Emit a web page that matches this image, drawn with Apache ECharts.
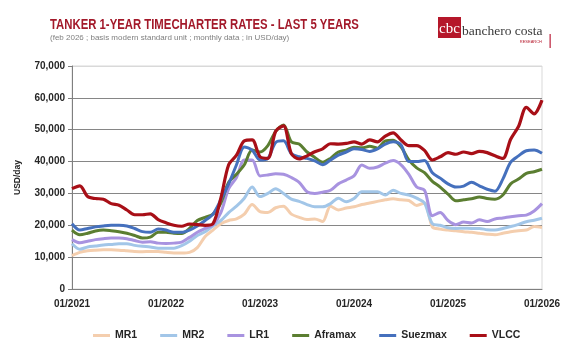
<!DOCTYPE html>
<html><head><meta charset="utf-8">
<script src="https://cdn.jsdelivr.net/npm/echarts@6/dist/echarts.min.js"></script>
<style>html,body{margin:0;padding:0;background:#fff}#c{width:569px;height:353px}</style>
</head><body><div id="c"></div>
<script>
// Categories: monthly, 01/2021 .. 01/2026
const categories = [];
for (let y = 2021; y <= 2026; y++) {
  for (let m = 1; m <= 12; m++) {
    if (y === 2026 && m > 1) break;
    categories.push(String(m).padStart(2, '0') + '/' + y);
  }
}
const xTickLabels = ['01/2021', '01/2022', '01/2023', '01/2024', '01/2025', '01/2026'];
const yTickValues = [0, 10000, 20000, 30000, 40000, 50000, 60000, 70000];

const seriesNames = ['MR1', 'MR2', 'LR1', 'Aframax', 'Suezmax', 'VLCC'];

const mr1 = [
  10500, 11500, 12000, 12200, 12300, 12300, 12200, 12000, 11800, 11700, 11800, 11800,
  11500, 11300, 11300, 11500, 13000, 16500, 18500, 20500, 21500, 22000, 23500, 26500,
  24300, 24000, 25500, 26000, 23500, 22500, 21800, 22000, 21200, 26000, 24800, 25400,
  25800, 26500, 27000, 27500, 28000, 28300, 28000, 27800, 26200, 27000, 19500, 18800,
  18500, 18300, 18000, 17800, 17500, 17200, 17000, 17500, 18000, 18300, 18500, 19600,
  19300
];
const mr2 = [
  14200, 12500, 13200, 13500, 13800, 14000, 14200, 14200, 13700, 13400, 13200, 12800,
  12800, 12800, 13600, 15000, 16800, 18000, 19800, 21500, 24000, 26000, 28500, 32000,
  29000, 30000, 31500, 30000, 28200, 27500, 26500, 25800, 25800, 26800, 28500, 27400,
  28400, 30500, 30500, 30500, 29500, 31000, 30000, 29500, 28500, 27000, 20500, 20000,
  19200, 19000, 19100, 19000, 19000, 18600, 18500, 19000, 19600, 20300, 21100, 21600,
  22200
];
const lr1 = [
  15500, 14500, 15000, 15500, 15800, 16000, 16000, 15800, 15200, 14700, 14800, 14400,
  14300, 14400, 14700, 16200, 17800, 19000, 20200, 24000, 31500, 35000, 40500, 40500,
  35500, 35800, 36200, 36000, 35000, 33500, 30500, 30000, 30400, 31000, 33000, 34200,
  35500, 38900, 37900, 38300, 39500, 40300, 39000, 36000, 32000, 31000, 23000, 24000,
  21500, 20200, 21000, 20700, 21700, 21200, 22000, 22300, 22700, 23000, 23200, 24500,
  26800
];
const aframax = [
  18500, 17000, 17500, 18200, 18500, 18300, 18000, 17500, 16800, 16000, 16300, 17800,
  17800, 17500, 17400, 19000, 21500, 22500, 23500, 27000, 33500, 36000, 39000, 43600,
  43000, 45000, 49500, 51500, 46200, 45500, 43000, 41300, 39800, 41000, 43000, 43600,
  44500, 44300, 44800, 44200, 46500, 46700, 44600, 40500, 38000, 36500, 33800, 32000,
  29800, 27700, 28000, 28300, 28900, 28400, 28200, 29500, 33000, 34500, 36300, 36800,
  37600
];
const suezmax = [
  20500, 18500, 19000, 19500, 19800, 20000, 20000, 19800, 19000, 18000, 17800, 18800,
  18500, 17800, 17800, 18500, 19800, 21500, 23500, 28000, 33000, 39000, 44600, 43600,
  40500, 41000, 46000, 46500, 42500, 41500, 41000, 40200, 39000, 40500, 42000, 43000,
  44000, 43800, 43200, 44000, 45500, 46200, 45200, 40000, 40000, 40300, 36500, 34800,
  33000, 32000, 32300, 33500, 32400, 31300, 30700, 34500, 39800, 41800, 43400, 43600,
  42600
];
const vlcc = [
  31500, 32400, 29000, 28400, 28200, 26800, 26300, 24800, 23300, 23300, 23600, 21800,
  20800, 20000, 19700, 20400, 20200, 20000, 20500, 28500, 39000, 42000, 46500, 46800,
  41500, 41000, 49500, 51200, 42500, 40800, 41800, 43100, 44000, 45600, 45500, 45700,
  46200, 45500, 46800, 46200, 48000, 49000, 46800, 45000, 45000, 43500, 40500, 41500,
  42800, 42300, 43000, 42500, 43200, 42800, 41800, 41000, 47000, 51000, 57000, 55000,
  59300
];

const seriesData = [mr1, mr2, lr1, aframax, suezmax, vlcc];
const seriesColors = ['#f4ceae', '#a2c6e8', '#a893e0', '#5b7e31', '#4570bd', '#a80f17'];

const chart = echarts.init(document.getElementById('c'), null, { renderer: 'canvas' });
const labelFont = 'Liberation Sans, Arial, sans-serif';

chart.setOption({
  animation: false,
  backgroundColor: '#ffffff',
  graphic: [
    { type: 'text', x: 50, y: 25, scaleX: 0.81, scaleY: 1,
      style: { x: 0, y: 0, text: 'TANKER 1-YEAR TIMECHARTER RATES - LAST 5 YEARS', fill: '#a3192a',
               font: 'bold 14px Liberation Sans, Arial, sans-serif', textAlign: 'left', textVerticalAlign: 'middle' } },
    { type: 'text', x: 50, y: 38,
      style: { x: 0, y: 0, text: '(feb 2026 ; basis modern standard unit ; monthly data ; in USD/day)', fill: '#7f7f7f',
               font: '8px Liberation Sans, Arial, sans-serif', textAlign: 'left', textVerticalAlign: 'middle' } },
    { type: 'rect', shape: { x: 438, y: 17, width: 23, height: 21 }, style: { fill: '#b5172a' } },
    { type: 'text', style: { x: 449.5, y: 37, text: 'cbc', fill: '#ffffff', font: '15px Liberation Serif, serif', textAlign: 'center', textVerticalAlign: 'bottom' } },
    { type: 'text', style: { x: 462, y: 31, text: 'banchero costa', fill: '#3a3a3a', font: '13.5px Liberation Serif, serif', textAlign: 'left', textVerticalAlign: 'middle' } },
    { type: 'text', style: { x: 542, y: 42, text: 'RESEARCH', fill: '#b5172a', font: '4px Liberation Sans, Arial, sans-serif', textAlign: 'right', textVerticalAlign: 'middle' } },
    { type: 'rect', shape: { x: 549.5, y: 34, width: 1.3, height: 14 }, style: { fill: '#c0304a' } }
  ],
  legend: {
    data: seriesNames,
    left: 88, top: 325,
    icon: 'rect', itemWidth: 17, itemHeight: 3, itemGap: 23,
    textStyle: { fontFamily: labelFont, fontWeight: 'bold', fontSize: 10.5, color: '#262626' }
  },
  grid: {
    left: 72, right: 27, top: 66, bottom: 64,
    show: true, borderColor: '#d9d9d9', borderWidth: 1
  },
  xAxis: {
    type: 'category',
    data: categories,
    boundaryGap: false,
    axisLine: { lineStyle: { color: '#7f7f7f', width: 1 } },
    axisTick: { show: false },
    axisLabel: {
      interval: 11, margin: 10,
      fontFamily: labelFont, fontWeight: 'bold', fontSize: 10, color: '#262626',
      formatter: (v) => xTickLabels.indexOf(v) >= 0 ? v : ''
    },
    splitLine: { show: false }
  },
  yAxis: {
    type: 'value',
    min: yTickValues[0], max: yTickValues[yTickValues.length - 1], interval: 10000,
    name: 'USD/day', nameLocation: 'middle', nameGap: 50, nameRotate: 90,
    nameTextStyle: { fontFamily: labelFont, fontWeight: 'bold', fontSize: 8.5, color: '#262626' },
    axisLine: { show: true, lineStyle: { color: '#7f7f7f', width: 1 } },
    axisTick: { show: true, length: 4, lineStyle: { color: '#7f7f7f' } },
    axisLabel: {
      margin: 7, fontFamily: labelFont, fontWeight: 'bold', fontSize: 10, color: '#262626',
      formatter: (v) => v.toLocaleString('en-US')
    },
    splitLine: { show: true, lineStyle: { color: ['#868686', '#868686', '#868686', '#868686', '#868686', '#868686', '#868686', '#d9d9d9'], width: 1 } }
  },
  series: seriesNames.map((n, i) => ({
    name: n,
    type: 'line',
    data: seriesData[i],
    showSymbol: false,
    smooth: 0.3,
    color: seriesColors[i],
    lineStyle: { width: i === 5 ? 3.2 : 3, color: seriesColors[i] },
    z: 2 + i
  }))
});
</script>
</body></html>
